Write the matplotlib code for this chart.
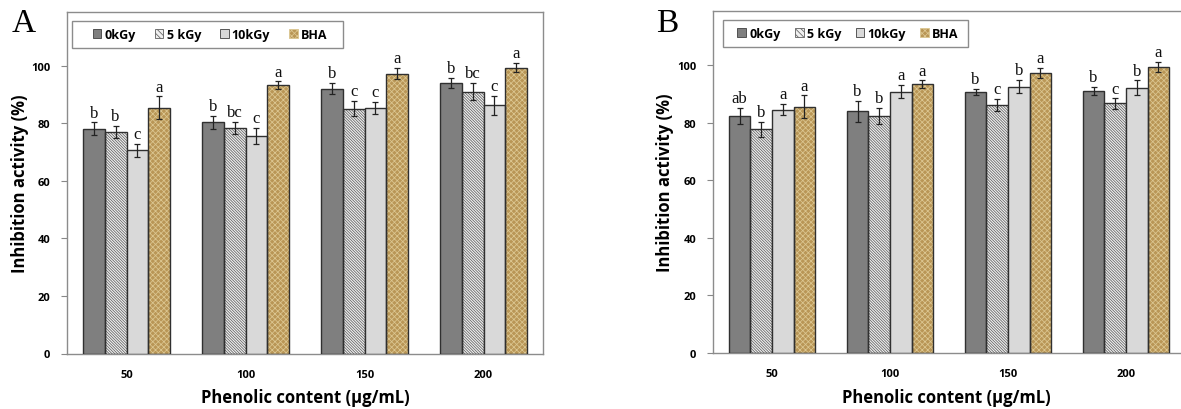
import matplotlib
matplotlib.use("Agg")
import matplotlib.pyplot as plt
from matplotlib.patches import Rectangle, Patch
import numpy as np

categories = ["50", "100", "150", "200"]
series = ["0kGy", "5 kGy", "10kGy", "BHA"]

a_values = {
    "0kGy":  [78.2, 80.3, 92.1, 94.0],
    "5 kGy": [77.0, 78.4, 85.1, 91.0],
    "10kGy": [70.6, 75.6, 85.3, 86.2],
    "BHA":   [85.5, 93.3, 97.3, 99.4],
}
a_errors = {
    "0kGy":  [2.1, 2.2, 1.9, 1.8],
    "5 kGy": [2.0, 2.2, 2.7, 3.0],
    "10kGy": [2.2, 2.8, 2.2, 3.4],
    "BHA":   [3.9, 1.3, 2.0, 1.7],
}
a_letters = {
    "0kGy":  ["b", "b", "b", "b"],
    "5 kGy": ["b", "bc", "c", "bc"],
    "10kGy": ["c", "c", "c", "c"],
    "BHA":   ["a", "a", "a", "a"],
}

b_values = {
    "0kGy":  [82.4, 84.0, 90.6, 91.2],
    "5 kGy": [77.7, 82.4, 86.2, 86.7],
    "10kGy": [84.6, 90.8, 92.6, 92.2],
    "BHA":   [85.6, 93.4, 97.3, 99.4],
}
b_errors = {
    "0kGy":  [2.8, 3.6, 1.1, 1.4],
    "5 kGy": [2.7, 2.8, 2.0, 1.8],
    "10kGy": [1.9, 2.3, 2.3, 2.5],
    "BHA":   [3.9, 1.3, 1.9, 1.9],
}
b_letters = {
    "0kGy":  ["ab", "b", "b", "b"],
    "5 kGy": ["b", "b", "c", "c"],
    "10kGy": ["a", "a", "b", "b"],
    "BHA":   ["a", "a", "a", "a"],
}

yticks = [0, 20, 40, 60, 80, 100]

styles = {
    "0kGy":  dict(face="#7f7f7f", hatch=None, hcol=None),
    "5 kGy": dict(face="#f0f0f0", hatch="\\" * 12, hcol="#5f5f5f"),
    "10kGy": dict(face="#d9d9d9", hatch=None, hcol=None),
    "BHA":   dict(face="#b99656", hatch="x" * 6, hcol="#dcc792"),
}

plt.rcParams["hatch.linewidth"] = 0.55
SANS = ["Open Sans", "DejaVu Sans"]
SERIF = ["Liberation Serif", "DejaVu Serif"]

fig = plt.figure(figsize=(11.81, 4.10), dpi=100)
W, H = 1181, 410


def make_axes(left_px, right_px, top_px, bottom_px):
    return fig.add_axes([left_px / W, (H - bottom_px) / H,
                         (right_px - left_px) / W, (bottom_px - top_px) / H])


def draw_panel(ax, values, errors, letters, show_right):
    x = np.arange(len(categories))
    w = 0.183
    handles = []
    for i, s in enumerate(series):
        st = styles[s]
        pos = x + (i - 1.5) * w
        if st["hatch"]:
            ax.bar(pos, values[s], w, color=st["face"], edgecolor=st["hcol"],
                   hatch=st["hatch"], linewidth=0, zorder=2)
            ax.bar(pos, values[s], w, facecolor="none", edgecolor="#303030",
                   linewidth=1.0, zorder=3)
            handles.append(Patch(facecolor=st["face"], edgecolor=st["hcol"],
                                 hatch=st["hatch"][:6], linewidth=0.6))
        else:
            ax.bar(pos, values[s], w, color=st["face"], edgecolor="#303030",
                   linewidth=1.0, zorder=3)
            handles.append(Patch(facecolor=st["face"], edgecolor="#404040",
                                 linewidth=0.6))
        ax.errorbar(pos, values[s], yerr=errors[s], fmt="none", ecolor="#222222",
                    elinewidth=0.9, capsize=2.5, capthick=0.9, zorder=4)
        for px, v, e, t in zip(pos, values[s], errors[s], letters[s]):
            ax.text(px, v + e + 0.6, t, ha="center", va="bottom", fontsize=12,
                    family=SERIF, color="#111111", zorder=5)

    ax.set_xlim(-0.5, len(categories) - 0.5)
    ax.set_ylim(0, 118.8)
    ax.set_yticks(yticks)
    ax.set_yticklabels([str(t) for t in yticks], fontsize=8, fontweight="bold", family=SANS)
    ax.set_xticks(x)
    ax.set_xticklabels(categories, fontsize=8, fontweight="bold", family=SANS)
    ax.tick_params(axis="x", length=0, pad=11)
    ax.tick_params(axis="y", length=4, width=0.8, color="#888888", pad=8, direction="out")
    for side in ["left", "bottom", "top", "right"]:
        ax.spines[side].set_color("#8c8c8c")
        ax.spines[side].set_linewidth(1.0)
    ax.spines["right"].set_visible(show_right)

    ax.set_ylabel("Inhibition activity (%)", fontsize=12, fontweight="bold",
                  family=SANS, va="center")
    ax.set_xlabel("Phenolic content (μg/mL)", fontsize=12, fontweight="bold",
                  family=SANS, va="center")
    return handles


def add_legend(ax, handles, box_px, ax_px, center_px, colsp):
    # box_px: (x0, x1, ytop, ybottom) in figure pixels; ax_px: (left, right, top, bottom)
    l, r, t, b = ax_px
    x0 = (box_px[0] - l) / (r - l)
    x1 = (box_px[1] - l) / (r - l)
    y0 = (b - box_px[3]) / (b - t)
    y1 = (b - box_px[2]) / (b - t)
    ax.add_patch(Rectangle((x0, y0), x1 - x0, y1 - y0, transform=ax.transAxes,
                           facecolor="white", edgecolor="#8c8c8c", linewidth=1.0,
                           zorder=6, clip_on=False))
    leg = ax.legend(handles, series, ncol=4, loc="center",
                    bbox_to_anchor=((center_px - l) / (r - l), (y0 + y1) / 2),
                    frameon=False, handlelength=0.7, handleheight=0.7,
                    handletextpad=0.25, columnspacing=colsp,
                    borderaxespad=0, borderpad=0,
                    prop=dict(family=SANS, weight="bold", size=9))
    leg.set_zorder(7)


A_px = (67, 543, 12.7, 354.5)
axA = make_axes(*A_px)
hA = draw_panel(axA, a_values, a_errors, a_letters, True)
axA.yaxis.set_label_coords((20 - 67) / 476, 0.5)
axA.xaxis.set_label_coords((305 - 67) / 476, -(398 - 354.5) / 341.8)
add_legend(axA, hA, (72, 343, 22, 49), A_px, 210, 1.5)

B_px = (713, 1185, 12.2, 353.7)
axB = make_axes(*B_px)
hB = draw_panel(axB, b_values, b_errors, b_letters, False)
axB.yaxis.set_label_coords((665 - 713) / 472, 0.5)
axB.xaxis.set_label_coords((946 - 713) / 472, -(398 - 353.7) / 341.5)
add_legend(axB, hB, (723, 968, 20.5, 48), B_px, 848, 1.15)

fig.text(12 / W, 1 - 8 / H, "A", fontsize=24, family=SERIF, va="top", ha="left")
fig.text(656 / W, 1 - 8 / H, "B", fontsize=24, family=SERIF, va="top", ha="left")

fig.savefig("out.png", dpi=100)
